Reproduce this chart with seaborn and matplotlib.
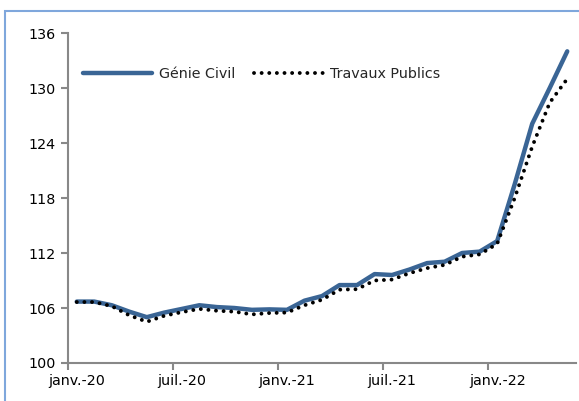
import numpy as np
import pandas as pd
import matplotlib
matplotlib.use('Agg')
import matplotlib.pyplot as plt
import seaborn as sns
from matplotlib.patches import Rectangle

# monthly index values, janv.-20 .. mai-22
months = pd.date_range('2020-01-01', '2022-05-01', freq='MS')
genie_civil = [106.7, 106.7, 106.3, 105.6, 105.0, 105.5, 105.9, 106.3, 106.1, 106.0,
               105.8, 105.85, 105.8, 106.8, 107.3, 108.5, 108.5, 109.7, 109.6, 110.2,
               110.9, 111.05, 112.0, 112.15, 113.3, 119.5, 126.1, 130.0, 134.0]
travaux_publics = [106.65, 106.65, 106.2, 105.2, 104.5, 105.15, 105.55, 105.9, 105.7, 105.6,
                   105.3, 105.45, 105.5, 106.3, 106.9, 108.0, 108.05, 109.0, 109.1, 109.8,
                   110.35, 110.7, 111.6, 111.85, 113.0, 118.0, 123.6, 128.4, 131.0]
tick_labels = ['janv.-20', 'juil.-20', 'janv.-21', 'juil.-21', 'janv.-22']
y_ticks = [100, 106, 112, 118, 124, 130, 136]

df = pd.DataFrame({'idx': np.arange(len(months)),
                   'Génie Civil': genie_civil,
                   'Travaux Publics': travaux_publics})

sns.set_theme(style='white')
plt.rcParams['font.family'] = ['DejaVu Sans']

fig = plt.figure(figsize=(5.79, 4.01), dpi=100)
ax = fig.add_axes([68 / 579, 38 / 401, 508 / 579, 330 / 401])

# outer chart frame
fig.patches.append(Rectangle((5 / 579, -0.05), 1.0, (401 - 11) / 401 + 0.05,
                             transform=fig.transFigure, fill=False,
                             edgecolor='#7FA7DC', linewidth=1.5))

dots = (0, (0.01, 1.95))

sns.lineplot(data=df, x='idx', y='Génie Civil', ax=ax, color='#3A6595',
             linewidth=3.2, label='Génie Civil', solid_capstyle='round')
sns.lineplot(data=df, x='idx', y='Travaux Publics', ax=ax, color='black',
             linewidth=2.8, label='Travaux Publics')
ax.lines[1].set_linestyle(dots)
ax.lines[1].set_dash_capstyle('round')

ax.set_xlim(-0.5, len(months) - 0.5)
ax.set_ylim(100, 136)
ax.set_yticks(y_ticks)
ax.set_xticks([0, 6, 12, 18, 24])
ax.set_xticklabels(tick_labels)
ax.set_xticks(np.arange(-0.5, len(months), 6), minor=True)
ax.tick_params(axis='x', which='major', length=0, pad=8, labelsize=10.3, colors='black')
ax.tick_params(axis='x', which='minor', length=5, width=1.5, color='#888888', bottom=True)
ax.tick_params(axis='y', length=5, width=1.5, color='#888888', labelsize=10.3,
               labelcolor='black', left=True, pad=4)
ax.set_xlabel('')
ax.set_ylabel('')

for s in ['top', 'right']:
    ax.spines[s].set_visible(False)
for s in ['left', 'bottom']:
    ax.spines[s].set_color('#888888')
    ax.spines[s].set_linewidth(1.5)

leg = ax.legend(loc='upper left', ncol=2, frameon=False, fontsize=10.3,
                handlelength=4.8, columnspacing=1.3, handletextpad=0.5,
                bbox_to_anchor=(0.005, 0.935))
leg.get_lines()[1].set_linestyle(dots)
leg.get_lines()[1].set_dash_capstyle('round')

fig.savefig('out.png', dpi=100)
